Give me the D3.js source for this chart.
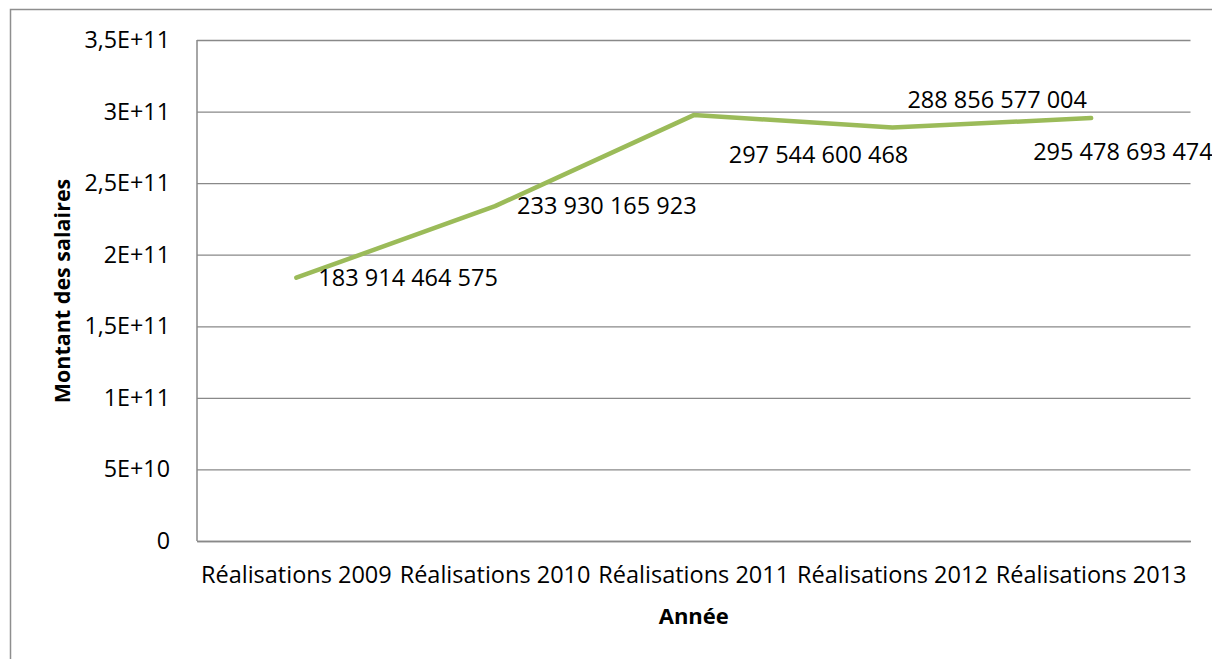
<!DOCTYPE html>
<html>
<head>
<meta charset="utf-8">
<script src="https://cdn.jsdelivr.net/npm/d3@7"></script>
<style>
  body { margin: 0; background: #fff; }
  svg { display: block; }
</style>
</head>
<body>
<div id="chart"></div>
<script>
// data
const categories = ["Réalisations 2009", "Réalisations 2010", "Réalisations 2011", "Réalisations 2012", "Réalisations 2013"];
const salaires = [183914464575, 233930165923, 297544600468, 288856577004, 295478693474];
const yTicks = [0, 5e10, 1e11, 1.5e11, 2e11, 2.5e11, 3e11, 3.5e11];
const yTickLabels = ["0", "5E+10", "1E+11", "1,5E+11", "2E+11", "2,5E+11", "3E+11", "3,5E+11"];

// where each data label sits relative to its point (like Excel's manual placement)
const labelOffsets = [[22, 0], [22, 0], [35, 40], [15, -28], [-58, 34]];

const W = 1212, H = 659;
const margin = {top: 40, right: 21.5, bottom: 118, left: 197};
const width = W - margin.left - margin.right,
    height = H - margin.top - margin.bottom;

const svg = d3.select("#chart")
    .append("svg")
    .attr("width", W)
    .attr("height", H);

// outer chart frame (runs off the right and bottom edge)
svg.append("rect")
    .attr("x", 10.5)
    .attr("y", 9.5)
    .attr("width", W + 20)
    .attr("height", H + 20)
    .attr("fill", "none")
    .attr("stroke", "#8e8e8e")
    .attr("stroke-width", 1.5);

const g = svg.append("g")
    .attr("transform", `translate(${margin.left},${margin.top})`);

const x = d3.scaleBand()
    .domain(categories)
    .range([0, width])
    .padding(0);

const y = d3.scaleLinear()
    .domain([0, 3.5e11])
    .range([height, 0]);

const font = "'Open Sans', sans-serif";

// gridlines + y labels
const yAxis = g.append("g")
    .call(d3.axisLeft(y)
        .tickValues(yTicks)
        .tickSize(-width)
        .tickPadding(27)
        .tickFormat((d, i) => yTickLabels[i]));
yAxis.select(".domain").remove();
yAxis.selectAll("line")
    .attr("stroke", "#898989")
    .attr("stroke-width", 1.3);
yAxis.selectAll("text")
    .attr("font-family", font)
    .attr("font-size", "23.3px")
    .attr("fill", "#000");

// axis lines
g.append("line")
    .attr("x1", 0).attr("x2", 0)
    .attr("y1", 0).attr("y2", height)
    .attr("stroke", "#898989")
    .attr("stroke-width", 1.5);

const xAxis = g.append("g")
    .attr("transform", `translate(0,${height})`)
    .call(d3.axisBottom(x).tickSize(0).tickPadding(25));
xAxis.select(".domain")
    .attr("stroke", "#898989")
    .attr("stroke-width", 1.5);
xAxis.selectAll("text")
    .attr("font-family", font)
    .attr("font-size", "23.5px")
    .attr("fill", "#000");

// the line
const line = d3.line()
    .x((d, i) => x(categories[i]) + x.bandwidth() / 2)
    .y(d => y(d));

g.append("path")
    .datum(salaires)
    .attr("fill", "none")
    .attr("stroke", "#9bbb59")
    .attr("stroke-width", 4.5)
    .attr("stroke-linecap", "round")
    .attr("stroke-linejoin", "round")
    .attr("d", line);

// data labels
const fmt = d3.formatLocale({decimal: ",", thousands: " ", grouping: [3], currency: ["", ""]}).format(",d");

g.selectAll(".label")
    .data(salaires)
    .join("text")
    .attr("class", "label")
    .attr("x", (d, i) => x(categories[i]) + x.bandwidth() / 2 + labelOffsets[i][0])
    .attr("y", (d, i) => y(d) + labelOffsets[i][1])
    .attr("dy", "0.35em")
    .attr("font-family", font)
    .attr("font-size", "23.5px")
    .attr("fill", "#000")
    .text(d => fmt(d));

// axis titles
svg.append("text")
    .attr("x", margin.left + width / 2)
    .attr("y", 624)
    .attr("text-anchor", "middle")
    .attr("font-family", font)
    .attr("font-weight", "bold")
    .attr("font-size", "22px")
    .text("Année");

svg.append("text")
    .attr("transform", "translate(70,291) rotate(-90)")
    .attr("text-anchor", "middle")
    .attr("font-family", font)
    .attr("font-weight", "bold")
    .attr("font-size", "21.5px")
    .text("Montant des salaires");
</script>
</body>
</html>
